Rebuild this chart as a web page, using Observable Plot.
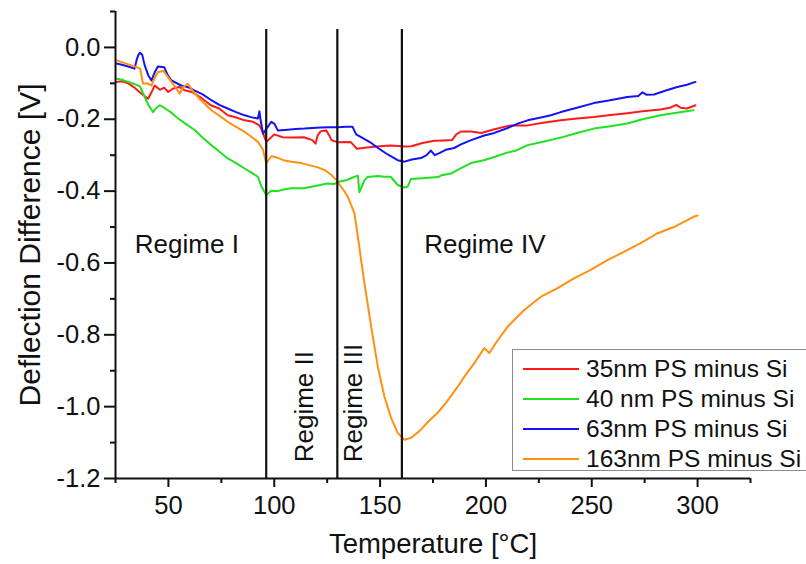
<!DOCTYPE html>
<html>
<head>
<meta charset="utf-8">
<script src="https://cdn.jsdelivr.net/npm/d3@7"></script>
<script src="https://cdn.jsdelivr.net/npm/@observablehq/plot@0.6"></script>
<style>
  html, body { margin: 0; padding: 0; background: #fff; }
  #wrap { position: relative; width: 806px; height: 564px; overflow: hidden; font-family: "Liberation Sans", Arial, sans-serif; }
  #legend { position: absolute; left: 512px; top: 349px; width: 320px; height: 122px; border: 1.5px solid #8c8c8c; background: #fff; box-sizing: border-box; }
  .row { position: absolute; left: 0; height: 30px; display: flex; align-items: center; font-size: 24.5px; color: #111; white-space: nowrap; }
  .sw { width: 56px; height: 2px; margin-left: 10px; margin-right: 7px; }
</style>
</head>
<body>
<div id="wrap"><div id="chart"></div><div id="legend"></div></div>
<script>
// ---- data (temperature °C, deflection difference V) ----
const seriesNames = ["35nm PS minus Si", "40 nm PS minus Si", "63nm PS minus Si", "163nm PS minus Si"];
const seriesColors = ["#ff1a1a", "#22e022", "#1414f0", "#ff9010"];

const series35 = [[25.5,-0.096],[28,-0.094],[31,-0.1],[34,-0.112],[37.3,-0.129],[40.4,-0.143],[42,-0.125],[43.5,-0.106],[46,-0.118],[48,-0.112],[49.9,-0.124],[52,-0.115],[55,-0.11],[58,-0.12],[61,-0.124],[65,-0.138],[70,-0.161],[74,-0.17],[78,-0.189],[82,-0.195],[86,-0.203],[90,-0.207],[93,-0.217],[94.5,-0.235],[96.2,-0.263],[98.6,-0.25],[100,-0.242],[104,-0.25],[108,-0.251],[114,-0.25],[118,-0.258],[119.5,-0.268],[120.5,-0.245],[122,-0.233],[124.5,-0.231],[126,-0.245],[127,-0.258],[130,-0.264],[136,-0.263],[137.5,-0.272],[139,-0.282],[142,-0.28],[145.8,-0.277],[150,-0.275],[155,-0.273],[161.5,-0.276],[164.8,-0.275],[170,-0.266],[175.6,-0.26],[180,-0.259],[184,-0.258],[186,-0.242],[188.2,-0.234],[193,-0.234],[197.8,-0.238],[204,-0.228],[211.8,-0.217],[219.7,-0.217],[227,-0.21],[235.4,-0.203],[243,-0.198],[251,-0.194],[259,-0.188],[266.8,-0.183],[274,-0.178],[282.5,-0.173],[287,-0.168],[290,-0.16],[292,-0.168],[295,-0.17],[299,-0.161]];

const series40 = [[25.5,-0.087],[28,-0.09],[31,-0.096],[34,-0.102],[36.5,-0.108],[38.8,-0.138],[40.5,-0.16],[42.8,-0.18],[44,-0.17],[46,-0.161],[49,-0.172],[51,-0.18],[54.6,-0.198],[58,-0.212],[62.4,-0.23],[66,-0.25],[70.3,-0.272],[74,-0.29],[78,-0.309],[82,-0.322],[86,-0.337],[89,-0.348],[92.3,-0.36],[94,-0.388],[96.2,-0.411],[98.6,-0.399],[101.7,-0.4],[105,-0.395],[108,-0.392],[114,-0.392],[120,-0.385],[125,-0.379],[128.4,-0.38],[131,-0.373],[134,-0.37],[137,-0.362],[139.5,-0.357],[140.2,-0.403],[141,-0.392],[142.6,-0.37],[144,-0.361],[149,-0.358],[152,-0.36],[155,-0.36],[158.3,-0.383],[161.5,-0.39],[163,-0.388],[164.6,-0.366],[170,-0.364],[177.2,-0.361],[179,-0.356],[183.5,-0.351],[188,-0.337],[193,-0.322],[199,-0.314],[204,-0.305],[210,-0.293],[214.7,-0.286],[219.7,-0.272],[226,-0.264],[230.3,-0.258],[235.4,-0.251],[243,-0.238],[251,-0.226],[258,-0.22],[266.8,-0.212],[274,-0.2],[282.5,-0.189],[290,-0.182],[298,-0.175]];

const series63 = [[25.5,-0.045],[28,-0.048],[31,-0.053],[34,-0.059],[35,-0.035],[35.7,-0.022],[36.5,-0.015],[37.6,-0.02],[38.8,-0.05],[40.5,-0.078],[42,-0.092],[43.5,-0.07],[45,-0.053],[48,-0.055],[49.5,-0.075],[51.4,-0.092],[56,-0.106],[59,-0.11],[62.4,-0.12],[66,-0.13],[70.3,-0.147],[74,-0.16],[78,-0.17],[82,-0.18],[86,-0.189],[89,-0.194],[92.3,-0.198],[93,-0.178],[93.5,-0.2],[94.7,-0.24],[96.5,-0.225],[98.6,-0.207],[100,-0.212],[101.7,-0.231],[106.4,-0.229],[110,-0.227],[114.3,-0.226],[118,-0.224],[122,-0.223],[126,-0.222],[130,-0.222],[134,-0.221],[137,-0.221],[138.7,-0.242],[141,-0.25],[145.8,-0.266],[149,-0.28],[153.6,-0.298],[158.3,-0.314],[161.5,-0.318],[165,-0.312],[169.3,-0.308],[172,-0.3],[174,-0.287],[175.8,-0.3],[178,-0.294],[181,-0.285],[185,-0.28],[188.2,-0.27],[193,-0.258],[199.2,-0.245],[204,-0.238],[210,-0.225],[215,-0.212],[219.7,-0.203],[226,-0.195],[230.7,-0.189],[235.4,-0.18],[243,-0.168],[251,-0.155],[258,-0.148],[266.8,-0.138],[272,-0.135],[274,-0.125],[276,-0.132],[279.4,-0.131],[285,-0.12],[290.4,-0.11],[295,-0.104],[299,-0.096]];

const series163 = [[25.5,-0.036],[29,-0.043],[32.5,-0.05],[35,-0.055],[36.7,-0.06],[38,-0.101],[40,-0.1],[42,-0.106],[43.5,-0.085],[45,-0.069],[47.6,-0.065],[49.5,-0.08],[51.4,-0.096],[53.5,-0.112],[55.3,-0.129],[57,-0.11],[59.3,-0.101],[61.3,-0.12],[65,-0.145],[70.3,-0.175],[74,-0.19],[78,-0.207],[82,-0.221],[86,-0.235],[89,-0.248],[92.3,-0.263],[94.7,-0.285],[96.2,-0.323],[98.6,-0.303],[101,-0.306],[104.9,-0.315],[108,-0.318],[112.7,-0.322],[116,-0.327],[120.6,-0.334],[124,-0.342],[127,-0.355],[129.2,-0.368],[130,-0.375],[132.5,-0.395],[134.8,-0.416],[137.9,-0.462],[139.5,-0.527],[142.6,-0.656],[145.8,-0.777],[148.9,-0.888],[152,-0.971],[155.2,-1.031],[158.3,-1.073],[161.5,-1.092],[164.6,-1.087],[169.3,-1.064],[173,-1.04],[177.2,-1.017],[181,-0.99],[186.7,-0.944],[190,-0.915],[194.5,-0.879],[199.2,-0.837],[201.6,-0.851],[205,-0.82],[210.3,-0.777],[218.1,-0.731],[226,-0.694],[233.9,-0.67],[241.6,-0.643],[249.5,-0.619],[257.4,-0.592],[265.2,-0.569],[273.1,-0.545],[280.9,-0.518],[288.8,-0.5],[298.3,-0.471],[300,-0.468]];

const regimeBounds = [96.2, 129.8, 160.3];
const regimeLabels = [
  {text: "Regime I",   t: 58.7,  v: -0.549, rotate: 0},
  {text: "Regime II",  t: 114.6, v: -1.0,   rotate: -90},
  {text: "Regime III", t: 137.5, v: -0.99,  rotate: -90},
  {text: "Regime IV",  t: 199.5, v: -0.548, rotate: 0}
];

const xTitle = "Temperature [°C]";
const yTitle = "Deflection Difference [V]";
const xDomain = [25, 325];
const yDomain = [-1.2, 0.1];
const xMajor = [50, 100, 150, 200, 250, 300];
const xMinor = [25, 75, 125, 175, 225, 275, 325];
const yMajor = [-1.2, -1.0, -0.8, -0.6, -0.4, -0.2, 0.0];
const yMinor = [-1.1, -0.9, -0.7, -0.5, -0.3, -0.1, 0.1];

// ---- build table ----
const allSeries = [series35, series40, series63, series163];
const rows = allSeries.flatMap((s, i) => s.map(([t, v]) => ({t, v, name: seriesNames[i]})));

const chart = Plot.plot({
  width: 806,
  height: 564,
  marginLeft: 115,
  marginRight: 56,
  marginTop: 11,
  marginBottom: 86,
  style: {fontFamily: "'Liberation Sans', Arial, sans-serif", fontSize: "25px", color: "#111", background: "#fff"},
  x: {domain: xDomain},
  y: {domain: yDomain},
  color: {domain: seriesNames, range: seriesColors},
  marks: [
    Plot.line(rows, {x: "t", y: "v", z: "name", stroke: "name", strokeWidth: 2, curve: "linear"}),
    Plot.ruleX(regimeBounds, {y1: yDomain[0], y2: 0.05, stroke: "#111", strokeWidth: 2.2}),
    Plot.text(regimeLabels, {x: "t", y: "v", text: "text", rotate: "rotate", fontSize: 26, fill: "#111", textAnchor: "middle", lineAnchor: "middle"}),
    Plot.ruleX([xDomain[0]], {y1: yDomain[0], y2: yDomain[1], stroke: "#111", strokeWidth: 2}),
    Plot.ruleY([yDomain[0]], {x1: xDomain[0], x2: xDomain[1], stroke: "#111", strokeWidth: 2}),
    Plot.axisY({ticks: yMajor, tickSize: 11, tickPadding: 4, strokeWidth: 2, fontSize: 25.5, tickFormat: d => d.toFixed(1), label: null}),
    Plot.axisY({ticks: yMinor, tickSize: 5, strokeWidth: 2, tickFormat: () => "", label: null}),
    Plot.axisY({ticks: [], label: yTitle, labelAnchor: "center", labelOffset: 97, labelArrow: "none", fontSize: 30}),
    Plot.axisX({ticks: xMajor, tickSize: 9, tickPadding: 8, strokeWidth: 2, fontSize: 25.5, label: null}),
    Plot.axisX({ticks: xMinor, tickSize: 5, strokeWidth: 2, tickFormat: () => "", label: null}),
    Plot.axisX({ticks: [], label: xTitle, labelAnchor: "center", labelOffset: 74, labelArrow: "none", fontSize: 27.5})
  ]
});
document.getElementById("chart").appendChild(chart);

// ---- legend ----
const legend = document.getElementById("legend");
seriesNames.forEach((name, i) => {
  const r = document.createElement("div");
  r.className = "row";
  r.style.top = (4 + i * 30) + "px";
  const sw = document.createElement("span");
  sw.className = "sw";
  sw.style.background = seriesColors[i];
  const tx = document.createElement("span");
  tx.textContent = name;
  r.appendChild(sw); r.appendChild(tx);
  legend.appendChild(r);
});
</script>
</body>
</html>
